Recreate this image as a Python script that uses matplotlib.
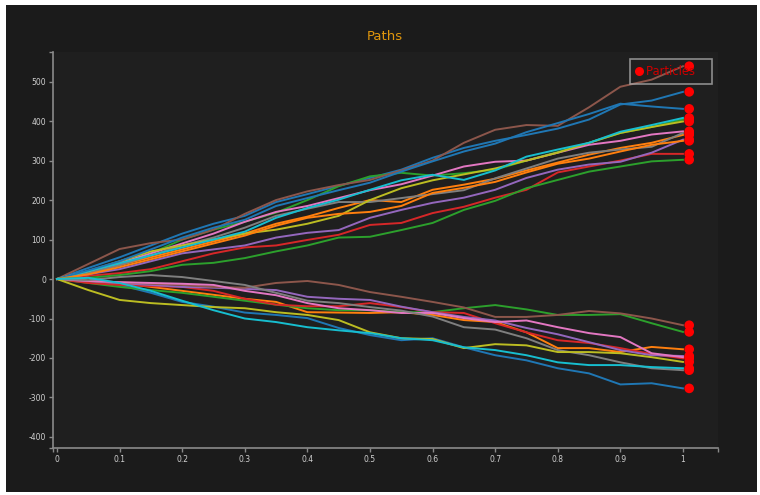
import matplotlib
matplotlib.use("Agg")
import matplotlib.pyplot as plt
from matplotlib.patches import Rectangle
from matplotlib.lines import Line2D

# ---- data ----
t = [0, 0.05, 0.1, 0.15, 0.2, 0.25, 0.3, 0.35, 0.4, 0.45, 0.5,
     0.55, 0.6, 0.65, 0.7, 0.75, 0.8, 0.85, 0.9, 0.95, 1.0]

up_brown  = [0, 38, 76, 91, 100, 125, 165, 200, 222, 238, 251, 275, 300, 345, 378, 390, 388, 435, 487, 505, 539]
up_blue1  = [0, 28, 55, 85, 115, 140, 160, 195, 215, 236, 256, 277, 307, 332, 350, 365, 381, 404, 442, 452, 474]
up_blue2  = [0, 22, 45, 75, 105, 130, 150, 185, 205, 225, 244, 272, 298, 323, 343, 372, 395, 418, 444, 437, 431]
up_cyan   = [0, 20, 40, 60, 80, 100, 120, 155, 180, 201, 226, 250, 264, 251, 275, 310, 328, 345, 373, 390, 408]
up_green1 = [0, 18, 40, 65, 100, 125, 145, 168, 200, 235, 260, 269, 262, 268, 277, 300, 322, 345, 370, 385, 404]
up_olive  = [0, 20, 45, 70, 85, 100, 115, 125, 140, 160, 200, 230, 250, 265, 280, 300, 320, 345, 370, 385, 399]
up_pink   = [0, 20, 40, 65, 90, 115, 145, 170, 185, 205, 225, 240, 262, 285, 297, 300, 320, 340, 350, 366, 374]
up_gray   = [0, 15, 35, 60, 85, 105, 130, 160, 178, 195, 195, 205, 215, 225, 255, 280, 305, 320, 328, 335, 370]
up_orange1 = [0, 15, 35, 55, 75, 95, 115, 140, 158, 180, 200, 195, 226, 239, 254, 275, 295, 315, 332, 345, 365]
up_orange2 = [0, 12, 30, 50, 70, 90, 110, 135, 155, 165, 170, 185, 218, 231, 246, 270, 292, 305, 323, 340, 350]
up_purple = [0, 12, 25, 45, 65, 75, 85, 105, 117, 124, 155, 175, 193, 206, 226, 256, 277, 290, 297, 320, 353]
up_red    = [0, 8, 15, 25, 45, 65, 80, 85, 99, 112, 137, 142, 167, 183, 206, 226, 270, 285, 300, 317, 317]
up_green2 = [0, 3, 10, 20, 36, 41, 53, 70, 85, 105, 107, 124, 142, 175, 198, 230, 251, 272, 285, 298, 302]

dn_brown  = [0, -5, -8, -12, -15, -20, -22, -10, -5, -15, -33, -45, -58, -72, -96, -96, -91, -81, -87, -100, -117]
dn_green  = [0, -10, -20, -28, -35, -45, -55, -65, -74, -79, -79, -84, -84, -74, -66, -77, -91, -91, -89, -112, -134]
dn_orange = [0, -5, -10, -20, -30, -40, -50, -58, -84, -85, -86, -84, -91, -104, -109, -135, -175, -175, -185, -172, -178]
dn_pink   = [0, -5, -8, -10, -12, -15, -30, -41, -61, -74, -79, -86, -86, -99, -109, -105, -122, -137, -147, -188, -198]
dn_purple = [0, -5, -10, -15, -20, -22, -25, -28, -45, -50, -53, -70, -84, -96, -105, -124, -140, -160, -180, -193, -195]
dn_red    = [0, -10, -15, -18, -20, -30, -50, -65, -69, -69, -61, -71, -84, -86, -112, -135, -155, -162, -175, -190, -201]
dn_olive  = [0, -28, -53, -61, -66, -71, -74, -84, -91, -104, -135, -150, -152, -175, -165, -168, -185, -185, -188, -198, -210]
dn_gray   = [0, -3, 5, 10, 5, -5, -15, -35, -55, -61, -71, -80, -95, -122, -128, -150, -180, -193, -211, -226, -231]
dn_cyan   = [0, 3, -10, -30, -55, -79, -100, -109, -122, -130, -137, -150, -155, -173, -180, -193, -211, -218, -218, -223, -226]
dn_blue   = [0, -5, -15, -35, -58, -70, -85, -91, -99, -124, -142, -155, -150, -173, -193, -206, -226, -239, -267, -264, -277]

paths = [
    (up_blue1, "tab:blue"), (up_orange1, "tab:orange"), (up_green1, "tab:green"),
    (up_red, "tab:red"), (up_purple, "tab:purple"), (up_brown, "tab:brown"),
    (up_pink, "tab:pink"), (up_gray, "tab:gray"), (up_olive, "tab:olive"),
    (up_cyan, "tab:cyan"), (up_blue2, "tab:blue"), (up_orange2, "tab:orange"),
    (up_green2, "tab:green"),
    (dn_blue, "tab:blue"), (dn_orange, "tab:orange"), (dn_green, "tab:green"),
    (dn_red, "tab:red"), (dn_purple, "tab:purple"), (dn_brown, "tab:brown"),
    (dn_pink, "tab:pink"), (dn_gray, "tab:gray"), (dn_olive, "tab:olive"),
    (dn_cyan, "tab:cyan"),
]

particle_x = 1.01
x_ticks = [0, 0.1, 0.2, 0.3, 0.4, 0.5, 0.6, 0.7, 0.8, 0.9, 1]
x_labels = ["0", "0.1", "0.2", "0.3", "0.4", "0.5", "0.6", "0.7", "0.8", "0.9", "1"]
y_ticks = [-400, -300, -200, -100, 0, 100, 200, 300, 400, 500]
y_labels = ["-400", "-300", "-200", "-100", "0", "100", "200", "300", "400", "500"]

# ---- figure ----
W, H = 760, 495
fig = plt.figure(figsize=(W / 100, H / 100), dpi=100)
fig.patch.set_facecolor("white")
fig.add_artist(Rectangle((6 / W, 3 / H), (W - 9) / W, (H - 8) / H,
                         transform=fig.transFigure, facecolor="#1b1b1b",
                         edgecolor="none", zorder=-10))

ax = fig.add_axes([53 / W, (H - 448) / H, (718 - 53) / W, (448 - 52) / H])
ax.set_facecolor("#1f1f1f")

for vals, col in paths:
    ax.plot(t, vals, color=col, lw=1.4, solid_joinstyle="round", zorder=2)

ends = [p[0][-1] for p in paths]
ax.scatter([particle_x] * len(ends), ends, s=48, color="#ff0000",
           edgecolors="none", zorder=4)

ax.set_xlim(-0.0064, 1.056)
ax.set_ylim(-428, 575)

for s in ["top", "right"]:
    ax.spines[s].set_visible(False)
for s in ["left", "bottom"]:
    ax.spines[s].set_color("#8a8a8a")
    ax.spines[s].set_linewidth(1.2)

ax.set_xticks(x_ticks)
ax.set_xticklabels(x_labels)
ax.set_yticks(y_ticks)
ax.set_yticklabels(y_labels)
ax.set_xticks([-0.0064, 1.056], minor=True)
ax.set_yticks([-428, 575], minor=True)
ax.tick_params(axis="both", which="major", colors="#8a8a8a", labelcolor="#d0d0d0",
               labelsize=5.5, length=3, width=1.0, pad=2)
ax.tick_params(axis="both", which="minor", colors="#8a8a8a", length=3, width=1.0)

fig.text(385 / W, 1 - 37 / H, "Paths", color="#e0960c", fontsize=9.5,
         ha="center", va="center")

handle = Line2D([], [], marker="o", color="none", markerfacecolor="#ff0000",
                markeredgecolor="none", markersize=6.5)
leg = ax.legend([handle], ["Particles   "], loc="upper right",
                bbox_to_anchor=((712 - 53) / (718 - 53), (448 - 59) / (448 - 52)),
                borderaxespad=0, frameon=True, fancybox=False, fontsize=8.3,
                handlelength=0.6, handletextpad=0.3, borderpad=0.5,
                labelcolor="#cc0000")
leg.get_frame().set_facecolor("none")
leg.get_frame().set_edgecolor("#a8a8a8")
leg.get_frame().set_linewidth(1.2)
leg.set_zorder(5)

fig.savefig("out.png", dpi=100, facecolor=fig.get_facecolor())
